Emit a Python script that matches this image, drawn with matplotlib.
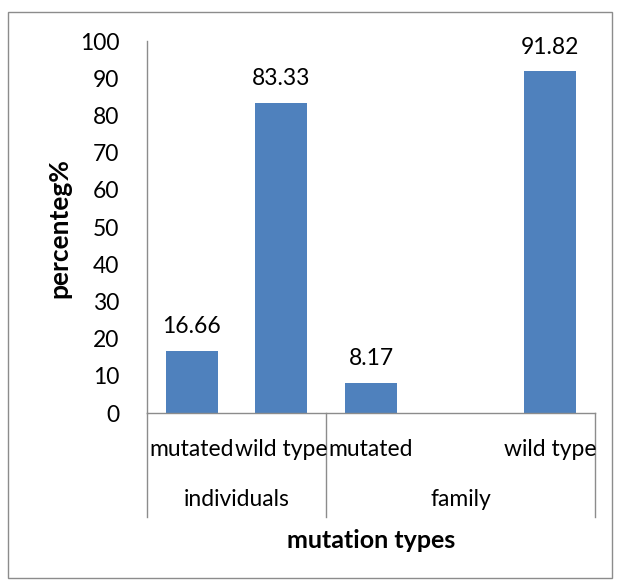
import matplotlib
matplotlib.use("Agg")
import matplotlib.pyplot as plt
import numpy as np
from matplotlib.patches import Rectangle
from matplotlib.lines import Line2D

# Data
slot_labels = ["mutated", "wild type", "mutated", "", "wild type"]
values = [16.66, 83.33, 8.17, np.nan, 91.82]
value_labels = ["16.66", "83.33", "8.17", "", "91.82"]
groups = ["individuals", "family"]
group_sizes = [2, 3]
y_ticks = [0, 10, 20, 30, 40, 50, 60, 70, 80, 90, 100]

plt.rcParams['font.family'] = ['Lato', 'DejaVu Sans']

W, H = 619, 583
fig = plt.figure(figsize=(W / 100, H / 100), dpi=100)
fig.patch.set_facecolor('white')

# outer frame
fig.add_artist(Rectangle((8 / W, 1 - 578 / H), (612 - 8) / W, (578 - 12) / H,
                         transform=fig.transFigure, fill=False,
                         edgecolor='#8c8c8c', linewidth=1.0))

left, right = 147 / W, 595 / W
bottom, top = 1 - 413 / H, 1 - 41 / H
ax = fig.add_axes([left, bottom, right - left, top - bottom])

FS = 16.5
x = np.arange(len(values))
bar_color = '#4F81BD'
ax.bar(x, values, width=0.58, color=bar_color, zorder=2)

for xi, v, lab in zip(x, values, value_labels):
    if not np.isnan(v):
        ax.annotate(lab, (xi, v), xytext=(0, 10), textcoords='offset points',
                    ha='center', va='bottom', fontsize=FS, color='#000000')

ax.set_xlim(-0.5, len(values) - 0.5)
ax.set_ylim(0, 100)
ax.set_yticks(y_ticks)
ax.tick_params(axis='y', length=0, pad=20, labelsize=FS)
ax.set_xticks([])

for s in ['top', 'right']:
    ax.spines[s].set_visible(False)
for s in ['left', 'bottom']:
    ax.spines[s].set_color('#8c8c8c')
    ax.spines[s].set_linewidth(1.0)

# inner category labels
inner_y = -(449 - 413) / (413 - 41)
for xi, lab in zip(x, slot_labels):
    if lab:
        ax.text(xi, inner_y, lab, transform=ax.get_xaxis_transform(),
                ha='center', va='center', fontsize=FS)

# group labels and dividers
line_bottom = -(517 - 413) / (413 - 41)
group_y = -(499 - 413) / (413 - 41)
start = -0.5
bounds = [start]
for g, n in zip(groups, group_sizes):
    end = start + n
    ax.text((start + end) / 2, group_y, g, transform=ax.get_xaxis_transform(),
            ha='center', va='center', fontsize=FS)
    bounds.append(end)
    start = end
for b in bounds:
    ax.add_line(Line2D([b, b], [0, line_bottom], transform=ax.get_xaxis_transform(),
                       color='#8c8c8c', linewidth=1.0, clip_on=False))

fig.text(371 / W, 1 - 541 / H, 'mutation types', ha='center', va='center',
         fontsize=18, fontweight='bold')
fig.text(59 / W, 1 - 228 / H, 'percenteg%', ha='center', va='center',
         rotation=90, fontsize=19, fontweight='bold')

fig.savefig('out.png', dpi=100, facecolor='white')
